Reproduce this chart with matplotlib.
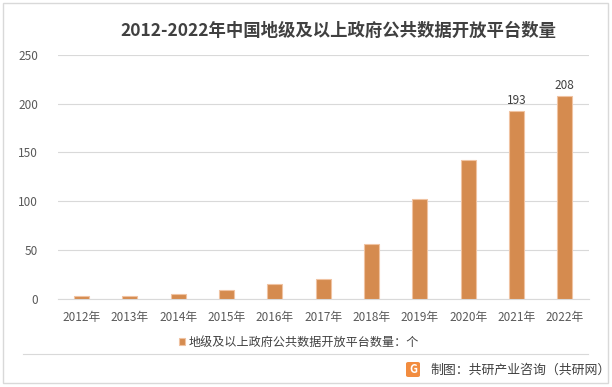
import numpy as np
import matplotlib.pyplot as plt
from matplotlib.patches import Rectangle, FancyBboxPatch
from matplotlib.lines import Line2D

plt.rcParams['font.family'] = ['Noto Sans CJK SC', 'DejaVu Sans']

# Daten
jahre = ['2012年', '2013年', '2014年', '2015年', '2016年', '2017年',
         '2018年', '2019年', '2020年', '2021年', '2022年']
anzahl = [3, 3, 5, 9, 15, 20, 56, 102, 142, 193, 208]
beschriftet = {'2021年': 193, '2022年': 208}
y_ticks = [0, 50, 100, 150, 200, 250]
reihe = '地级及以上政府公共数据开放平台数量：个'
titel = '2012-2022年中国地级及以上政府公共数据开放平台数量'
quelle = '制图：共研产业咨询（共研网）'

fig = plt.figure(figsize=(6.12, 3.87), dpi=100)
W, H = 612, 387

ax = fig.add_axes([57.5 / W, 1 - 298.5 / H, (589 - 57.5) / W, (298.5 - 55) / H])

x = np.arange(len(jahre))
balken = ax.bar(x, anzahl, width=0.31, color='#D58B4F', edgecolor='#F0C3A2',
                linewidth=0.8, label=reihe, zorder=3)

for i, j in enumerate(jahre):
    if j in beschriftet:
        ax.text(x[i], anzahl[i] + 4, str(beschriftet[j]), ha='center', va='bottom',
                fontsize=8.5, color='#404040', zorder=4)

ax.set_xlim(-0.5, len(jahre) - 0.5)
ax.set_ylim(0, 250)
ax.set_yticks(y_ticks)
ax.set_xticks(x)
ax.set_xticklabels(jahre, fontsize=8.5, color='#595959')
ax.tick_params(axis='y', labelsize=8.5, labelcolor='#595959', length=0, pad=14)
ax.tick_params(axis='x', length=0, pad=9)
ax.grid(axis='y', color='#d9d9d9', linewidth=0.8, zorder=0)
for s in ['top', 'right', 'left']:
    ax.spines[s].set_visible(False)
ax.spines['bottom'].set_color('#d9d9d9')
ax.spines['bottom'].set_linewidth(0.8)

# Titel
fig.text(338 / W, 1 - 31 / H, titel, ha='center', va='center', fontsize=12.5,
         fontweight='bold', color='#404040')

# Legende
fig.legend(handles=[balken], labels=[reihe], loc='center',
           bbox_to_anchor=(299 / W, 1 - 342 / H), frameon=False, fontsize=8.7,
           handlelength=0.55, handleheight=0.55, handletextpad=0.3,
           labelcolor='#404040')

# Trennlinie und Rahmen
fig.add_artist(Line2D([23 / W, 588 / W], [1 - 354 / H, 1 - 354 / H],
                      color='#d9d9d9', linewidth=0.8))
fig.add_artist(Rectangle((3 / W, 1 - 383 / H), 605 / W, 380 / H, fill=False,
                         edgecolor='#d9d9d9', linewidth=1.0))

# Logo + Quelle
fig.add_artist(FancyBboxPatch((406 / W, 1 - 377 / H), 14 / W, 15 / H,
                              boxstyle='round,pad=0,rounding_size=0.004',
                              facecolor='#F28C3F', edgecolor='none'))
fig.text(413 / W, 1 - 369.5 / H, 'G', ha='center', va='center', fontsize=8,
         fontweight='bold', color='white')
fig.text(430 / W, 1 - 370 / H, quelle, ha='left', va='center', fontsize=9.3,
         color='#404040')

plt.savefig('out.png', dpi=100)
